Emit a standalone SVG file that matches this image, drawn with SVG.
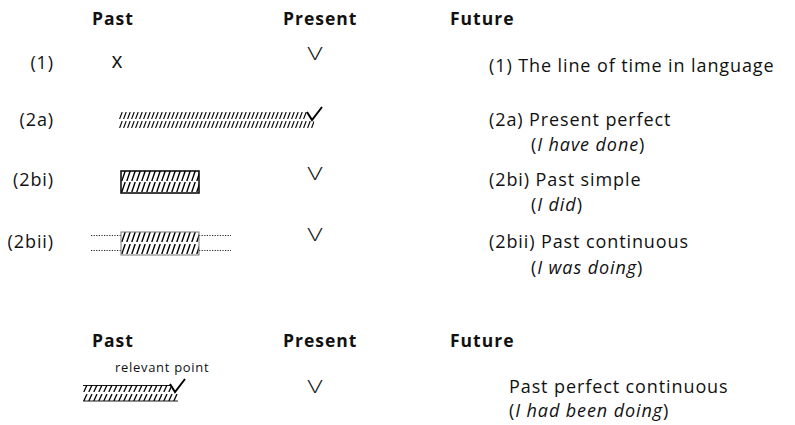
<svg xmlns="http://www.w3.org/2000/svg" width="795" height="425" viewBox="0 0 795 425">
<style>
text { font-family: "Open Sans", "Noto Sans", "DejaVu Sans", sans-serif; fill: #111; }
.h { font-size: 17.5px; font-weight: 700; letter-spacing: 1px; }
.t { font-size: 18px; letter-spacing: 0.9px; }
.lab { font-size: 18px; letter-spacing: 0.9px; text-anchor: end; }
.i { font-style: italic; }
.v { font-size: 18px; font-weight: 300; text-anchor: middle; }
.small { font-size: 13px; letter-spacing: 0.7px; }
.tick { fill: none; stroke: #000; stroke-width: 2; }
.dot { stroke: #222; stroke-width: 1.2; stroke-dasharray: 1.2 1.4; fill: none; }
.line { stroke: #000; stroke-width: 0.9; fill: none; }
</style>
<defs>
<pattern id="h4" width="4" height="7" patternUnits="userSpaceOnUse"><path d="M0.6,7 L3.2,0" stroke="#000" stroke-width="1.1"/></pattern>
<pattern id="h5" width="5" height="10" patternUnits="userSpaceOnUse"><path d="M0.8,10 L4.2,0" stroke="#000" stroke-width="1.4"/></pattern>
<pattern id="h5s" width="5" height="7" patternUnits="userSpaceOnUse"><path d="M0.8,7 L4,0" stroke="#000" stroke-width="1.3"/></pattern>
</defs>

<g id="header-top">
<text class="h" x="92" y="25">Past</text>
<text class="h" x="283" y="25">Present</text>
<text class="h" x="450" y="25">Future</text>
</g>

<g id="row-1">
<text class="lab" x="54" y="69">(1)</text>
<text class="v" x="117" y="68" style="font-size:21px;font-weight:400">x</text>
<text class="v" x="315" y="60" textLength="15" lengthAdjust="spacingAndGlyphs">V</text>
<text class="t" x="489" y="72">(1) The line of time in language</text>
</g>

<g id="row-2a">
<text class="lab" x="54" y="126">(2a)</text>
<g transform="translate(119,112)"><rect width="188" height="7" fill="url(#h4)"/></g>
<g transform="translate(119,121)"><rect width="195" height="7" fill="url(#h4)"/></g>
<path class="tick" d="M307,112 L312,120 L322,107"/>
<text class="t" x="489" y="126">(2a) Present perfect</text>
<text class="t" x="531" y="151">(<tspan class="i">I have done</tspan>)</text>
</g>

<g id="row-2bi">
<text class="lab" x="54" y="186">(2bi)</text>
<g transform="translate(121,171)"><rect width="78" height="10" fill="url(#h5)"/></g>
<g transform="translate(121,182)"><rect width="78" height="10" fill="url(#h5)"/></g>
<rect x="121" y="171" width="78" height="22" fill="none" stroke="#000" stroke-width="1.5"/>
<text class="v" x="315" y="180" textLength="15" lengthAdjust="spacingAndGlyphs">V</text>
<text class="t" x="489" y="186">(2bi) Past simple</text>
<text class="t" x="531" y="211">(<tspan class="i">I did</tspan>)</text>
</g>

<g id="row-2bii">
<text class="lab" x="54" y="248">(2bii)</text>
<path class="dot" d="M91,235.5 H121 M91,250.5 H121 M199,235.5 H231 M199,250.5 H231"/>
<g transform="translate(121,232)"><rect width="78" height="10" fill="url(#h5)"/></g>
<g transform="translate(121,244)"><rect width="78" height="10" fill="url(#h5)"/></g>
<rect x="121" y="232" width="78" height="23" fill="none" stroke="#777" stroke-width="1"/>
<text class="v" x="315" y="241" textLength="15" lengthAdjust="spacingAndGlyphs">V</text>
<text class="t" x="489" y="248">(2bii) Past continuous</text>
<text class="t" x="531" y="274">(<tspan class="i">I was doing</tspan>)</text>
</g>

<g id="header-bottom">
<text class="h" x="92" y="347">Past</text>
<text class="h" x="283" y="347">Present</text>
<text class="h" x="450" y="347">Future</text>
</g>

<g id="row-past-perfect-continuous">
<text class="small" x="115" y="372">relevant point</text>
<g transform="translate(83,385)"><rect width="88" height="7" fill="url(#h5s)"/></g>
<g transform="translate(83,394)"><rect width="95" height="7" fill="url(#h5s)"/></g>
<path class="line" d="M83,385.5 H171 M83,401 H178"/>
<path class="tick" d="M170,384 L175,392 L185,379"/>
<text class="v" x="315" y="393" textLength="15" lengthAdjust="spacingAndGlyphs">V</text>
<text class="t" x="509" y="393">Past perfect continuous</text>
<text class="t" x="509" y="417">(<tspan class="i">I had been doing</tspan>)</text>
</g>
</svg>
